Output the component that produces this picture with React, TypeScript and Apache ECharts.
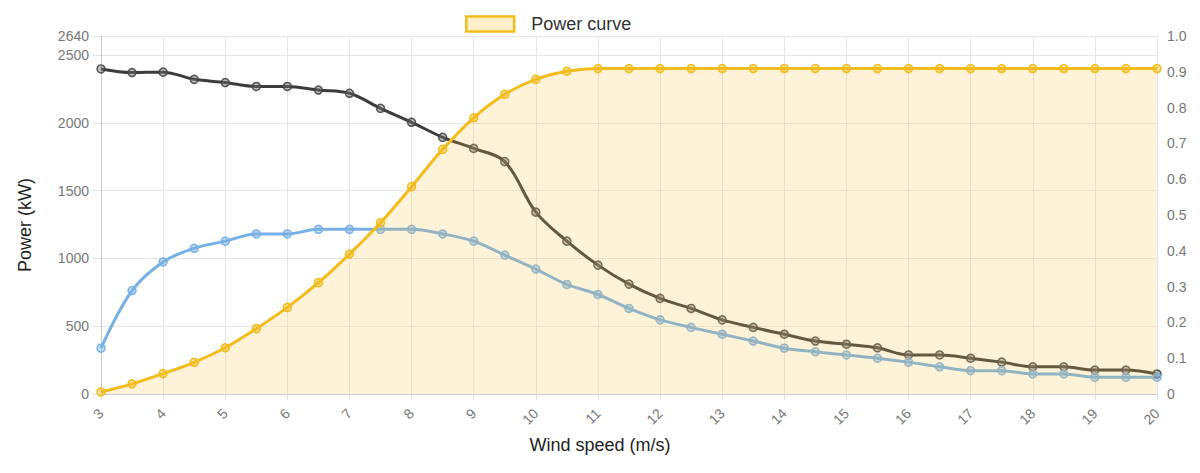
import React, { useEffect, useRef } from "react";
import * as echarts from "echarts";

const windSpeeds = [3, 3.5, 4, 4.5, 5, 5.5, 6, 6.5, 7, 7.5, 8, 8.5, 9, 9.5, 10, 10.5, 11, 11.5, 12, 12.5, 13, 13.5, 14, 14.5, 15, 15.5, 16, 16.5, 17, 17.5, 18, 18.5, 19, 19.5, 20];

const powerKW = [15, 75, 150, 234, 341, 482, 639, 821, 1032, 1263, 1529, 1804, 2037, 2210, 2320, 2380, 2400, 2400, 2400, 2400, 2400, 2400, 2400, 2400, 2400, 2400, 2400, 2400, 2400, 2400, 2400, 2400, 2400, 2400, 2400];

const ctValues = [0.908, 0.898, 0.899, 0.879, 0.87, 0.859, 0.859, 0.849, 0.84, 0.798, 0.759, 0.717, 0.686, 0.649, 0.508, 0.427, 0.36, 0.307, 0.267, 0.239, 0.207, 0.186, 0.167, 0.148, 0.139, 0.129, 0.109, 0.109, 0.1, 0.089, 0.076, 0.076, 0.067, 0.067, 0.056];

const cpValues = [0.128, 0.289, 0.369, 0.407, 0.427, 0.447, 0.447, 0.46, 0.46, 0.46, 0.46, 0.447, 0.427, 0.388, 0.349, 0.306, 0.278, 0.239, 0.207, 0.186, 0.167, 0.148, 0.128, 0.118, 0.109, 0.1, 0.089, 0.076, 0.065, 0.065, 0.056, 0.056, 0.047, 0.047, 0.047];

const powerMax = 2640;
const powerInterval = 500;

const pairs = (ys: number[]) => windSpeeds.map((x, i) => [x, ys[i]]);

const FONT = "Liberation Sans, Arial, sans-serif";

export default function App() {
  const ref = useRef<HTMLDivElement>(null);
  useEffect(() => {
    if (!ref.current) return;
    const chart = echarts.init(ref.current, undefined, { renderer: "svg" });
    chart.setOption({
      animation: false,
      textStyle: { fontFamily: FONT },
      legend: {
        data: [
          {
            name: "Power curve",
            icon: "rect",
            itemStyle: { color: "rgba(250,200,70,0.3)", borderColor: "#f2bc1c", borderWidth: 2.5 },
          },
        ],
        top: 2,
        left: 452,
        itemWidth: 48,
        itemHeight: 15,
        itemGap: 20,
        textStyle: { fontSize: 18, color: "#333", fontFamily: FONT, padding: [0, 0, 0, 12] },
      },
      graphic: [
        {
          type: "text",
          left: "center",
          top: 428,
          style: { text: "Wind speed (m/s)", fontSize: 18, fill: "#222", fontFamily: FONT },
        },
        {
          type: "text",
          x: 17,
          y: 217,
          rotation: Math.PI / 2,
          style: {
            text: "Power (kW)",
            fontSize: 18,
            fill: "#222",
            fontFamily: FONT,
            align: "center",
            verticalAlign: "middle",
          },
        },
      ],
      grid: { left: 93, right: 35, top: 28, bottom: 71, containLabel: false },
      xAxis: {
        type: "value",
        min: 3,
        max: 20,
        interval: 1,
        axisLine: { show: true, lineStyle: { color: "#c8c8c8" } },
        axisTick: { show: true, length: 6, lineStyle: { color: "#e0e0e0" } },
        axisLabel: { rotate: 45, fontSize: 14, color: "#777", margin: 17, fontFamily: FONT, formatter: (v: number) => String(v) },
        splitLine: { show: true, lineStyle: { color: "#e6e6e6" } },
      },
      yAxis: [
        {
          type: "value",
          min: 0,
          max: powerMax,
          interval: powerInterval,
          axisLine: { show: true, lineStyle: { color: "#c8c8c8" } },
          axisTick: { show: true, length: 8, lineStyle: { color: "#e0e0e0" } },
          axisLabel: { fontSize: 14, color: "#777", margin: 12, fontFamily: FONT, formatter: (v: number) => String(v) },
          splitLine: { show: true, lineStyle: { color: "#e6e6e6" } },
        },
        {
          type: "value",
          min: 0,
          max: 1,
          interval: 0.1,
          position: "right",
          axisLine: { show: false },
          axisTick: { show: false },
          axisLabel: {
            fontSize: 14,
            color: "#777",
            margin: 10,
            fontFamily: FONT,
            formatter: (v: number) => (v === 0 ? "0" : v.toFixed(1)),
          },
          splitLine: { show: false },
        },
      ],
      series: [
        {
          name: "Ct",
          type: "line",
          yAxisIndex: 1,
          data: pairs(ctValues),
          smooth: 0.35,
          symbol: "circle",
          symbolSize: 8,
          z: 2,
          lineStyle: { color: "rgb(60,60,60)", width: 3 },
          itemStyle: { color: "rgba(110,110,110,0.45)", borderColor: "rgba(70,70,70,0.9)", borderWidth: 1.5 },
        },
        {
          name: "Cp",
          type: "line",
          yAxisIndex: 1,
          data: pairs(cpValues),
          smooth: 0.35,
          symbol: "circle",
          symbolSize: 8,
          z: 2,
          lineStyle: { color: "rgb(118,176,228)", width: 3 },
          itemStyle: { color: "rgba(118,176,228,0.45)", borderColor: "rgba(118,176,228,0.95)", borderWidth: 1.5 },
        },
        {
          name: "Power curve",
          type: "line",
          yAxisIndex: 0,
          data: pairs(powerKW),
          smooth: 0.35,
          symbol: "circle",
          symbolSize: 8,
          z: 5,
          lineStyle: { color: "#f2bc1c", width: 3 },
          itemStyle: { color: "rgba(242,188,28,0.45)", borderColor: "#f2bc1c", borderWidth: 1.5 },
          areaStyle: { color: "rgba(250,200,70,0.3)", origin: "start" },
        },
      ],
    });
    return () => chart.dispose();
  }, []);
  return <div ref={ref} style={{ width: 1184, height: 457 }} />;
}
